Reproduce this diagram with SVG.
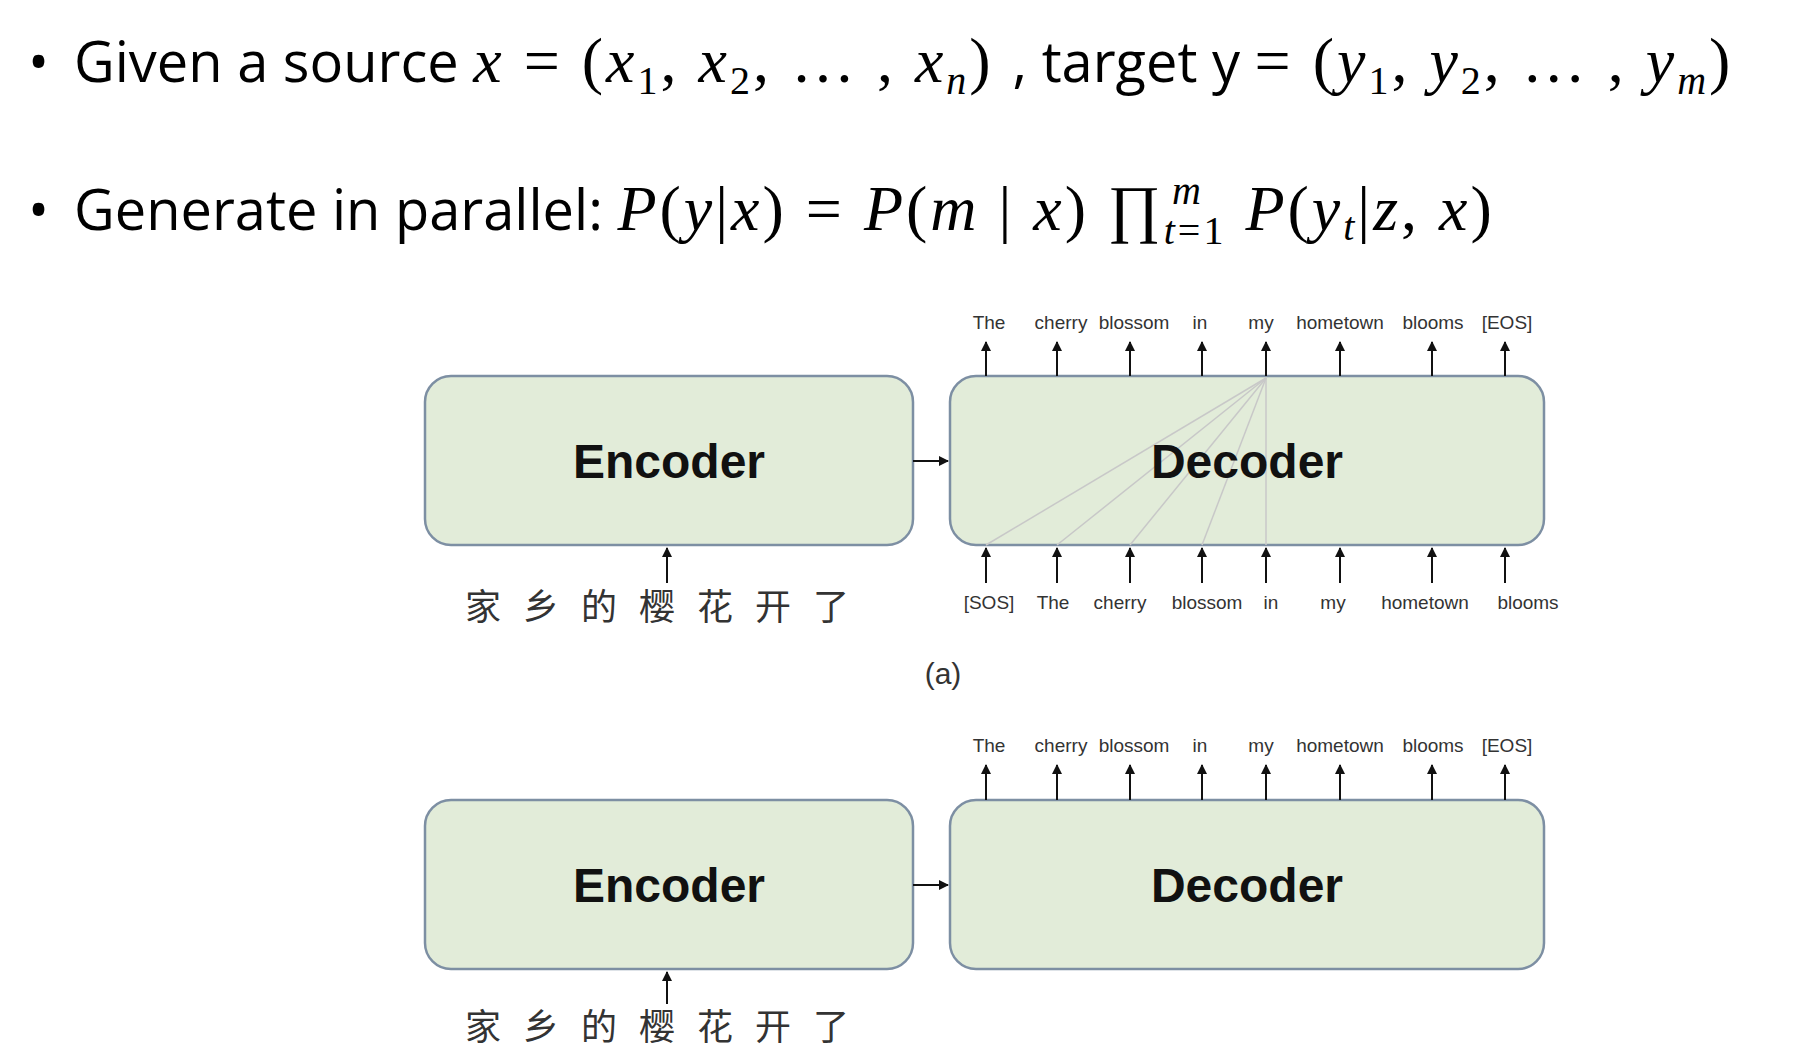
<svg xmlns="http://www.w3.org/2000/svg" width="1812" height="1052" viewBox="0 0 1812 1052">
<defs>
<marker id="ah" viewBox="0 0 10 10" refX="9" refY="5" markerWidth="5" markerHeight="5" orient="auto"><path d="M0,0L10,5L0,10z" fill="#111"/></marker>
<style>
.box{fill:#e2ecd9;stroke:#7d8fa3;stroke-width:2.5}
.big{font-family:"Liberation Sans",Arial,sans-serif;font-weight:bold;font-size:48px;fill:#111;text-anchor:middle}
.lbl{font-family:"Liberation Sans",Arial,sans-serif;font-size:19px;fill:#333;text-anchor:middle}
.cn{font-family:"Noto Sans CJK SC",sans-serif;font-size:36px;fill:#333;letter-spacing:22px}
.hd{font-family:"Open Sans","Liberation Sans",sans-serif;font-size:56px;fill:#000}
.m{font-family:"Liberation Serif",serif;font-style:italic;font-size:64px;letter-spacing:3px}
.r{font-family:"Liberation Serif",serif;font-style:normal;font-size:64px;letter-spacing:3px}
.s{font-size:40px}
.ar{stroke:#111;stroke-width:2;fill:none;marker-end:url(#ah)}
.fan{stroke:#c8c8c8;stroke-width:1.5}
</style>
</defs>
<text class="hd" x="28" y="82">• <tspan x="74">Given a source </tspan><tspan class="m">x</tspan><tspan class="r"> = (</tspan><tspan class="m">x</tspan><tspan class="r s" dy="12">1</tspan><tspan class="r" dy="-12">, </tspan><tspan class="m">x</tspan><tspan class="r s" dy="12">2</tspan><tspan class="r" dy="-12">, … , </tspan><tspan class="m">x</tspan><tspan class="m s" dy="12">n</tspan><tspan class="r" dy="-12">) </tspan>, target y <tspan class="r">= (</tspan><tspan class="m">y</tspan><tspan class="r s" dy="12">1</tspan><tspan class="r" dy="-12">, </tspan><tspan class="m">y</tspan><tspan class="r s" dy="12">2</tspan><tspan class="r" dy="-12">, … , </tspan><tspan class="m">y</tspan><tspan class="m s" dy="12">m</tspan><tspan class="r" dy="-12">)</tspan></text>
<text class="hd" x="28" y="230">• <tspan x="74">Generate in parallel: </tspan><tspan class="m">P</tspan><tspan class="r">(</tspan><tspan class="m">y</tspan><tspan class="r">|</tspan><tspan class="m">x</tspan><tspan class="r">) = </tspan><tspan class="m">P</tspan><tspan class="r">(</tspan><tspan class="m">m</tspan><tspan class="r">   | </tspan><tspan class="m">x</tspan><tspan class="r">) ∏</tspan><tspan class="m s" dy="14">t</tspan><tspan class="r s">=1</tspan><tspan class="m" dy="-14"> P</tspan><tspan class="r">(</tspan><tspan class="m">y</tspan><tspan class="m s" dy="10">t</tspan><tspan class="r" dy="-10">|</tspan><tspan class="m">z</tspan><tspan class="r">, </tspan><tspan class="m">x</tspan><tspan class="r">)</tspan></text>
<text class="m s" x="1172" y="204">m</text>

<g transform="translate(-5,0)">
<g id="enc-a"><rect class="box" x="430" y="376" width="488" height="169" rx="26"/><text class="big" x="674" y="478">Encoder</text></g>
<g id="dec-a"><rect class="box" x="955" y="376" width="594" height="169" rx="26"/>
<g class="fan"><line x1="1271" y1="378" x2="991" y2="545"/><line x1="1271" y1="378" x2="1062" y2="545"/><line x1="1271" y1="378" x2="1135" y2="545"/><line x1="1271" y1="378" x2="1207" y2="545"/><line x1="1271" y1="378" x2="1271" y2="545"/></g>
<text class="big" x="1252" y="478">Decoder</text></g>
<g id="enc-b"><rect class="box" x="430" y="800" width="488" height="169" rx="26"/><text class="big" x="674" y="902">Encoder</text></g>
<g id="dec-b"><rect class="box" x="955" y="800" width="594" height="169" rx="26"/><text class="big" x="1252" y="902">Decoder</text></g>

<g id="connectors">
<line class="ar" x1="918" y1="461" x2="953" y2="461"/>
<line class="ar" x1="918" y1="885" x2="953" y2="885"/>
<line class="ar" x1="672" y1="583" x2="672" y2="548"/>
<line class="ar" x1="672" y1="1004" x2="672" y2="972"/>
<g id="top-a">
<line class="ar" x1="991" y1="376" x2="991" y2="342"/><line class="ar" x1="1062" y1="376" x2="1062" y2="342"/><line class="ar" x1="1135" y1="376" x2="1135" y2="342"/><line class="ar" x1="1207" y1="376" x2="1207" y2="342"/><line class="ar" x1="1271" y1="376" x2="1271" y2="342"/><line class="ar" x1="1345" y1="376" x2="1345" y2="342"/><line class="ar" x1="1437" y1="376" x2="1437" y2="342"/><line class="ar" x1="1510" y1="376" x2="1510" y2="342"/>
</g>
<g id="bot-a">
<line class="ar" x1="991" y1="583" x2="991" y2="548"/><line class="ar" x1="1062" y1="583" x2="1062" y2="548"/><line class="ar" x1="1135" y1="583" x2="1135" y2="548"/><line class="ar" x1="1207" y1="583" x2="1207" y2="548"/><line class="ar" x1="1271" y1="583" x2="1271" y2="548"/><line class="ar" x1="1345" y1="583" x2="1345" y2="548"/><line class="ar" x1="1437" y1="583" x2="1437" y2="548"/><line class="ar" x1="1510" y1="583" x2="1510" y2="548"/>
</g>
<g id="top-b">
<line class="ar" x1="991" y1="800" x2="991" y2="765"/><line class="ar" x1="1062" y1="800" x2="1062" y2="765"/><line class="ar" x1="1135" y1="800" x2="1135" y2="765"/><line class="ar" x1="1207" y1="800" x2="1207" y2="765"/><line class="ar" x1="1271" y1="800" x2="1271" y2="765"/><line class="ar" x1="1345" y1="800" x2="1345" y2="765"/><line class="ar" x1="1437" y1="800" x2="1437" y2="765"/><line class="ar" x1="1510" y1="800" x2="1510" y2="765"/>
</g>
</g>

<g id="labels-top-a">
<text class="lbl" x="994" y="329">The</text><text class="lbl" x="1066" y="329">cherry</text><text class="lbl" x="1139" y="329">blossom</text><text class="lbl" x="1205" y="329">in</text><text class="lbl" x="1266" y="329">my</text><text class="lbl" x="1345" y="329">hometown</text><text class="lbl" x="1438" y="329">blooms</text><text class="lbl" x="1512" y="329">[EOS]</text>
</g>
<g id="labels-bot-a">
<text class="lbl" x="994" y="609">[SOS]</text><text class="lbl" x="1058" y="609">The</text><text class="lbl" x="1125" y="609">cherry</text><text class="lbl" x="1212" y="609">blossom</text><text class="lbl" x="1276" y="609">in</text><text class="lbl" x="1338" y="609">my</text><text class="lbl" x="1430" y="609">hometown</text><text class="lbl" x="1533" y="609">blooms</text>
</g>
<g id="labels-top-b">
<text class="lbl" x="994" y="752">The</text><text class="lbl" x="1066" y="752">cherry</text><text class="lbl" x="1139" y="752">blossom</text><text class="lbl" x="1205" y="752">in</text><text class="lbl" x="1266" y="752">my</text><text class="lbl" x="1345" y="752">hometown</text><text class="lbl" x="1438" y="752">blooms</text><text class="lbl" x="1512" y="752">[EOS]</text>
</g>
<text class="cn" x="470" y="620">家乡的樱花开了</text>
<text class="cn" x="470" y="1040">家乡的樱花开了</text>
<text x="948" y="684" font-family="Liberation Sans,sans-serif" font-size="30" fill="#333" text-anchor="middle">(a)</text>
</g>
</svg>
